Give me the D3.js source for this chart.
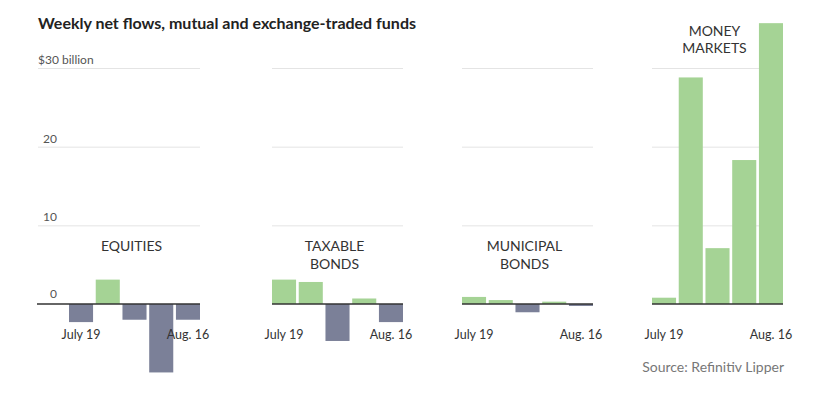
<!DOCTYPE html>
<html>
<head>
<meta charset="utf-8">
<script src="https://cdn.jsdelivr.net/npm/d3@7"></script>
<style>
  body { margin: 0; background: #fff; }
  svg text { font-family: Lato, "Noto Sans", sans-serif; }
  .title { font-weight: bold; font-size: 16px; fill: #222; }
  .tick-label { font-size: 12px; fill: #555; }
  .panel-title { font-size: 14px; fill: #333; }
  .source { font-size: 14px; fill: #777; }
</style>
</head>
<body>
<div id="chart"></div>
<script>
// data: weekly net flows, $ billion
var weeks = ['July 19', 'July 26', 'Aug. 2', 'Aug. 9', 'Aug. 16'];
var fundTypes = ['EQUITIES', 'TAXABLE BONDS', 'MUNICIPAL BONDS', 'MONEY MARKETS'];
var equities = [-2.3, 3.1, -2.0, -8.7, -2.0];
var taxableBonds = [3.1, 2.8, -4.7, 0.7, -2.3];
var municipalBonds = [0.9, 0.5, -1.05, 0.3, -0.25];
var moneyMarkets = [0.8, 28.8, 7.1, 18.3, 35.7];
var yTicks = [0, 10, 20, 30];
var yTickLabels = ['0', '10', '20', '$30 billion'];

var seriesValues = [equities, taxableBonds, municipalBonds, moneyMarkets];

var width = 817, height = 397;
var green = '#a5d395', slate = '#7b8098';

var svg = d3.select('#chart').append('svg')
    .attr('width', width)
    .attr('height', height);

svg.append('text')
    .attr('class', 'title')
    .attr('x', 38)
    .attr('y', 29)
    .text('Weekly net flows, mutual and exchange-traded funds');

var y = d3.scaleLinear().domain([0, 30]).range([304, 68]);

// panel left edges (bars area)
var panelLeft = [69, 272, 462, 652], panelWidth = 131;

// titles need two lines except equities
var titleLines = fundTypes.map(function (t) {
  return t == 'EQUITIES' ? [t] : t.split(' ');
});
var titleTop = [251, 251, 251, 35.5];

fundTypes.forEach(function (name, i) {
  var x0 = panelLeft[i], x1 = x0 + panelWidth;
  var gridStart = i == 0 ? 38 : x0;

  var x = d3.scaleBand()
      .domain(weeks)
      .range([x0, x1])
      .paddingInner(0.1)
      .paddingOuter(0);

  var g = svg.append('g').attr('class', 'panel');

  // gridlines (not at zero)
  g.selectAll('.grid')
    .data(yTicks.filter(function (d) { return d != 0; }))
    .enter().append('line')
      .attr('x1', gridStart)
      .attr('x2', x1)
      .attr('y1', function (d) { return y(d) + 0.5; })
      .attr('y2', function (d) { return y(d) + 0.5; })
      .attr('stroke', '#e4e4e4')
      .attr('stroke-width', 1);

  // y labels only on first panel
  if (i == 0) {
    g.selectAll('.tick-label')
      .data(yTicks)
      .enter().append('text')
        .attr('class', 'tick-label')
        .attr('x', function (d) { return d == 30 ? 38 : 57; })
        .attr('y', function (d) { return y(d) - (d == 0 ? 6 : 4); })
        .attr('text-anchor', function (d) { return d == 30 ? 'start' : 'end'; })
        .text(function (d, j) { return yTickLabels[j]; });
  }

  // bars
  g.selectAll('.bar')
    .data(seriesValues[i])
    .enter().append('rect')
      .attr('class', 'bar')
      .attr('x', function (d, j) { return x(weeks[j]); })
      .attr('width', x.bandwidth())
      .attr('y', function (d) { return d > 0 ? y(d) : y(0); })
      .attr('height', function (d) { return Math.abs(y(d) - y(0)); })
      .attr('fill', function (d) { return d > 0 ? green : slate; });

  // zero line
  g.append('line')
    .attr('x1', i == 0 ? 37 : x0)
    .attr('x2', x1)
    .attr('y1', y(0))
    .attr('y2', y(0))
    .attr('stroke', '#333')
    .attr('stroke-width', 1.3);

  // first and last week labels
  var ax = g.append('g')
      .attr('transform', 'translate(0,' + 327 + ')')
      .call(d3.axisBottom(x).tickValues([weeks[0], weeks[weeks.length - 1]]).tickSize(0));
  ax.select('.domain').remove();
  ax.selectAll('text')
    .attr('fill', '#333')
    .style('font-family', 'Lato, sans-serif')
    .style('font-size', '12.5px');

  // panel title
  var cx = x0 + panelWidth / 2 - 3;
  g.append('text')
    .attr('class', 'panel-title')
    .attr('text-anchor', 'middle')
    .selectAll('tspan')
    .data(titleLines[i])
    .enter().append('tspan')
      .attr('x', cx)
      .attr('y', function (d, k) { return titleTop[i] + k * 17.7; })
      .text(function (d) { return d; });
});

svg.append('text')
    .attr('class', 'source')
    .attr('x', 784)
    .attr('y', 372)
    .attr('text-anchor', 'end')
    .text('Source: Refinitiv Lipper');
</script>
</body>
</html>
